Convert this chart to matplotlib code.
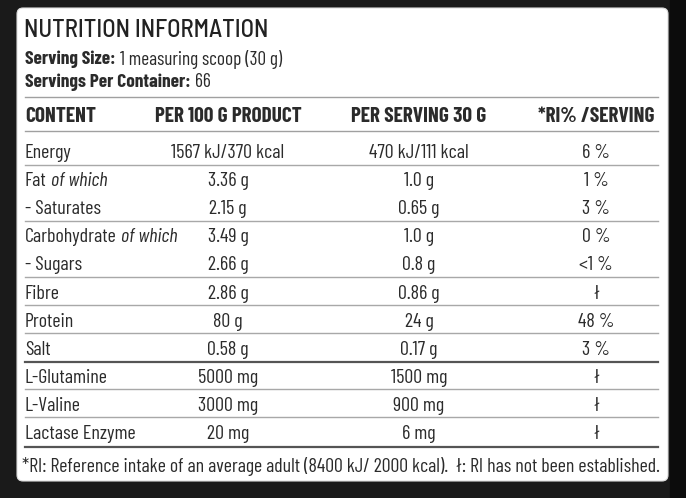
import matplotlib
matplotlib.use('Agg')
import matplotlib.pyplot as plt
from matplotlib import font_manager
from matplotlib.patches import FancyBboxPatch

# table contents
title = 'NUTRITION INFORMATION'
serving_size = '1 measuring scoop (30 g)'
servings_per_container = '66'
headers = ['CONTENT', 'PER 100 G PRODUCT', 'PER SERVING 30 G', '*RI% /SERVING']
nutrients = ['Energy', 'Fat', '- Saturates', 'Carbohydrate', '- Sugars', 'Fibre',
             'Protein', 'Salt', 'L-Glutamine', 'L-Valine', 'Lactase Enzyme']
italic_suffix = ['', 'of which', '', 'of which', '', '', '', '', '', '', '']
per_100g = ['1567 kJ/370 kcal', '3.36 g', '2.15 g', '3.49 g', '2.66 g', '2.86 g',
            '80 g', '0.58 g', '5000 mg', '3000 mg', '20 mg']
per_serving = ['470 kJ/111 kcal', '1.0 g', '0.65 g', '1.0 g', '0.8 g', '0.86 g',
               '24 g', '0.17 g', '1500 mg', '900 mg', '6 mg']
ri_pct = ['6 %', '1 %', '3 %', '0 %', '<1 %', 'ł', '48 %', '3 %', 'ł', 'ł', 'ł']
footnote = '*RI: Reference intake of an average adult (8400 kJ/ 2000 kcal).  ł: RI has not been established.'

# which rows get a line below them (thin / thick)
thin_after = [0, 2, 4, 5, 6, 8, 9]
thick_after = [7, 10]

# pick a condensed sans if there is one
names = set(f.name for f in font_manager.fontManager.ttflist)
wanted = ['Barlow Condensed', 'Fira Sans Extra Condensed', 'Fira Sans Condensed', 'Roboto Condensed',
          'PT Sans Narrow', 'Archivo Narrow', 'Liberation Sans Narrow']
fam = next((n for n in wanted if n in names), 'DejaVu Sans')
title_fam = next((n for n in ['Barlow Semi Condensed', 'Barlow', fam] if n in names), fam)
plt.rcParams['font.family'] = [fam, 'DejaVu Sans']

ink = '#2b2b2b'
W, H = 686, 498
fig = plt.figure(figsize=(W / 100, H / 100), dpi=100, facecolor='#1a1a1a')
ax = fig.add_axes([0, 0, 1, 1])
ax.set_xlim(0, W)
ax.set_ylim(H, 0)
ax.axis('off')
ax.add_patch(plt.Rectangle((670, 0), 16, H, color='#0c0c0c', zorder=0))

card = FancyBboxPatch((17, 8), 651, 473, boxstyle='round,pad=0,rounding_size=6',
                      fc='white', ec='#dddddd', lw=0.8, zorder=1)
ax.add_patch(card)

fig.canvas.draw()
rend = fig.canvas.get_renderer()


def text_width(t):
    return t.get_window_extent(renderer=rend).width


def size_for(s, target, weight='normal', limit=18, family=None):
    probe = ax.text(0, -50, s, fontsize=12, fontweight=weight)
    if family:
        probe.set_family([family, 'DejaVu Sans'])
    size = min(12 * target / text_width(probe), limit)
    probe.remove()
    return size


def two_part(x, y, first, second, size, w1='bold', w2='normal', s2='normal'):
    t1 = ax.text(x, y, first, fontsize=size, fontweight=w1, color=ink, va='center', ha='left', zorder=3)
    if second:
        x2 = x + text_width(t1) + size * 0.3
        ax.text(x2, y, second, fontsize=size, fontweight=w2, fontstyle=s2, color=ink,
                va='center', ha='left', zorder=3)


left = 25
right = 658
col_x = [left, 228, 419, 596]

ts = size_for(title, 245, weight='medium', limit=19, family=title_fam)
ax.text(left - 1, 30, title, fontsize=ts, fontweight='medium', family=[title_fam, 'DejaVu Sans'],
        color='#222222', va='center', ha='left', zorder=3)

srv = size_for('Serving Size: ' + serving_size, 250)
two_part(left, 59, 'Serving Size:', serving_size, srv)
two_part(left, 82, 'Servings Per Container:', servings_per_container, srv)

ax.plot([left, right], [97, 97], color='#a0a0a0', lw=1.0, zorder=2)
hdr = size_for(headers[1], 148, weight='bold')
ax.text(col_x[0], 116, headers[0], fontsize=hdr, fontweight='bold', color=ink, va='center', ha='left', zorder=3)
for cx, h in zip(col_x[1:], headers[1:]):
    ax.text(cx, 116, h, fontsize=hdr, fontweight='bold', color=ink, va='center', ha='center', zorder=3)
ax.plot([left, right], [131, 131], color='#a0a0a0', lw=1.0, zorder=2)

body = size_for(per_100g[0], 113)

row0 = 153
step = 28.1
for i, name in enumerate(nutrients):
    y = row0 + i * step
    two_part(left, y, name, italic_suffix[i], body, w1='normal', s2='italic')
    ax.text(col_x[1], y, per_100g[i], fontsize=body, color=ink, va='center', ha='center', zorder=3)
    ax.text(col_x[2], y, per_serving[i], fontsize=body, color=ink, va='center', ha='center', zorder=3)
    ax.text(col_x[3], y, ri_pct[i], fontsize=body, color=ink, va='center', ha='center', zorder=3)
    if i in thin_after:
        ax.plot([left, right], [y + 11.5, y + 11.5], color='#a8a8a8', lw=1.0, zorder=2)
    if i in thick_after:
        ax.plot([left, right], [y + 12.5, y + 12.5], color='#555555', lw=1.6, zorder=2)

fs = size_for(footnote, 637)
ax.text(left - 3, 466, footnote, fontsize=fs, color=ink, va='center', ha='left', zorder=3)

fig.savefig('out.png', dpi=100, facecolor=fig.get_facecolor())
